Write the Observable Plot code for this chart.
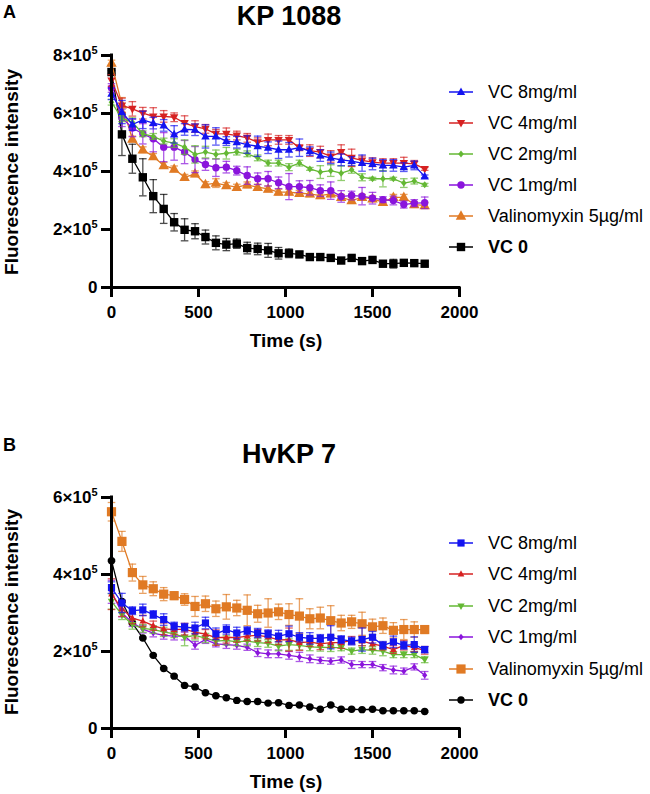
<!DOCTYPE html>
<html><head><meta charset="utf-8">
<script src="https://cdn.jsdelivr.net/npm/d3@7"></script>
<script src="https://cdn.jsdelivr.net/npm/@observablehq/plot@0.6"></script>
<style>
body{margin:0;background:#fff;}
#wrap{position:relative;width:650px;height:794px;font-family:"Liberation Sans",Arial,sans-serif;color:#000;overflow:hidden;}
.abs{position:absolute;white-space:nowrap;line-height:1;}
.c{transform:translate(-50%,-50%);}
.cx{transform:translateX(-50%);line-height:1.12;}
.rot{transform:translate(-50%,-50%) rotate(-90deg);}
.vm{transform:translateY(-50%);}
svg.plot{position:absolute;left:0;}
</style></head><body><div id="wrap"></div>
<script>
// ---------- data (fluorescence in units of 10^5) ----------
const times = [0,60,120,180,240,300,360,420,480,540,600,660,720,780,840,900,960,1020,1080,1140,1200,1260,1320,1380,1440,1500,1560,1620,1680,1740,1800];
const seriesNames = ["VC 8mg/ml","VC 4mg/ml","VC 2mg/ml","VC 1mg/ml","Valinomyxin 5µg/ml","VC 0"];
const xTicks = [0,500,1000,1500,2000];
const yTicksA = [0,2,4,6,8];
const yTicksB = [0,2,4,6];
const titleA = "KP 1088";
const titleB = "HvKP 7";

// Panel A: KP 1088
const a_vc8 = [6.68,6.05,5.62,5.78,5.67,5.59,5.28,5.45,5.44,5.21,5.21,5.05,5.01,4.93,4.87,4.82,4.75,4.75,4.82,4.70,4.55,4.47,4.40,4.36,4.29,4.26,4.21,4.21,4.15,4.21,3.83];
const a_vc4 = [7.14,6.28,6.16,6.01,5.90,5.90,5.87,5.67,5.55,5.47,5.30,5.30,5.24,5.16,5.01,5.09,5.09,5.09,4.82,4.72,4.67,4.52,4.67,4.47,4.38,4.32,4.29,4.29,4.29,4.26,4.09];
const a_vc2 = [6.39,5.82,5.70,5.30,5.21,5.05,4.98,4.84,4.59,4.67,4.59,4.63,4.67,4.61,4.47,4.29,4.29,4.15,4.29,4.09,3.98,4.03,3.94,4.06,3.80,3.75,3.75,3.75,3.60,3.67,3.54];
const a_vc1 = [6.88,5.85,5.50,5.30,5.13,4.84,4.84,4.67,4.41,4.24,4.13,4.15,4.03,3.86,3.75,3.75,3.61,3.48,3.48,3.44,3.34,3.34,3.14,3.17,3.15,3.08,3.03,3.00,2.86,2.91,2.92];
const a_val = [7.74,6.30,5.12,4.75,4.52,4.21,4.09,3.80,3.92,3.55,3.60,3.52,3.46,3.54,3.46,3.40,3.29,3.29,3.25,3.23,3.17,3.23,3.11,3.00,3.11,3.06,2.94,3.11,3.11,2.86,2.83];
const a_vc0 = [7.43,5.28,4.44,3.80,3.15,2.71,2.25,1.99,1.94,1.74,1.54,1.48,1.51,1.36,1.33,1.28,1.18,1.18,1.14,1.05,1.05,1.02,0.93,1.02,0.91,0.95,0.82,0.82,0.85,0.84,0.82];
const ea_vc8 = [0.2,0.4,0.2,0.3,0.2,0.2,0.3,0.2,0.2,0.4,0.3,0.15,0.2,0.3,0.35,0.2,0.3,0.25,0.3,0.15,0.2,0.2,0.2,0.15,0.28,0.2,0.2,0.2,0.15,0.15,0.05];
const ea_vc4 = [0.2,0.25,0.25,0.2,0.3,0.2,0.15,0.25,0.2,0.15,0.15,0.2,0.15,0.15,0.15,0.2,0.15,0.15,0.1,0.2,0.2,0.2,0.25,0.3,0.15,0.15,0.15,0.15,0.2,0.12,0.05];
const ea_vc2 = [0.1,0.1,0.15,0.1,0.1,0.1,0.15,0.25,0.3,0.2,0.15,0.2,0.1,0.1,0.1,0.1,0.1,0.12,0.1,0.05,0.22,0.2,0.25,0.12,0.12,0.05,0.28,0.05,0.15,0.1,0.05];
const ea_vc1 = [0.15,0.3,0.3,0.35,0.45,0.5,0.45,0.4,0.45,0.2,0.3,0.2,0.15,0.3,0.2,0.25,0.2,0.45,0.2,0.25,0.2,0.3,0.2,0.15,0.3,0.2,0.1,0.15,0.12,0.12,0.2];
const ea_val = [0.1,0.25,0.1,0.1,0.1,0.1,0.1,0.1,0.1,0.1,0.15,0.1,0.1,0.1,0.1,0.1,0.1,0.1,0.1,0.1,0.1,0.1,0.1,0.1,0.1,0.1,0.1,0.1,0.1,0.1,0.1];
const ea_vc0 = [0.05,0.73,0.5,0.64,0.57,0.5,0.3,0.38,0.26,0.24,0.24,0.21,0.16,0.2,0.2,0.24,0.2,0.15,0.1,0.1,0.1,0.08,0.08,0.08,0.08,0.08,0.1,0.15,0.1,0.08,0.08];

// Panel B: HvKP 7
const b_vc8 = [3.66,3.26,3.06,3.08,2.96,2.83,2.66,2.63,2.61,2.74,2.46,2.57,2.48,2.54,2.48,2.46,2.40,2.46,2.37,2.34,2.34,2.37,2.31,2.27,2.31,2.37,2.16,2.25,2.16,2.18,2.05];
const b_vc4 = [3.49,3.11,2.87,2.79,2.67,2.59,2.57,2.58,2.50,2.45,2.36,2.37,2.36,2.40,2.42,2.38,2.30,2.31,2.23,2.25,2.20,2.23,2.23,2.29,2.27,2.20,2.14,2.05,2.16,2.10,2.03];
const b_vc2 = [3.30,2.95,2.70,2.60,2.57,2.51,2.46,2.37,2.42,2.35,2.27,2.29,2.25,2.27,2.23,2.21,2.14,2.18,2.16,2.12,2.11,2.10,2.10,2.01,2.05,2.03,2.01,1.92,1.92,1.92,1.79];
const b_vc1 = [3.55,3.00,2.75,2.58,2.48,2.42,2.40,2.40,2.16,2.31,2.20,2.18,2.16,2.11,1.97,1.94,1.94,1.90,1.86,1.81,1.77,1.75,1.78,1.66,1.66,1.66,1.58,1.52,1.49,1.60,1.38];
const b_val = [5.63,4.86,4.05,3.73,3.63,3.49,3.45,3.35,3.17,3.24,3.11,3.16,3.13,3.07,2.98,3.00,3.03,2.96,2.92,2.85,2.87,2.80,2.74,2.77,2.72,2.64,2.67,2.55,2.57,2.57,2.57];
const b_vc0 = [4.36,3.30,2.74,2.35,1.90,1.56,1.36,1.12,1.08,0.93,0.85,0.80,0.73,0.70,0.70,0.66,0.67,0.60,0.61,0.56,0.50,0.61,0.50,0.50,0.49,0.50,0.46,0.46,0.46,0.46,0.44];
const eb_vc8 = [0.15,0.25,0.1,0.15,0.1,0.15,0.1,0.1,0.15,0.15,0.15,0.12,0.15,0.1,0.12,0.1,0.15,0.2,0.12,0.15,0.1,0.3,0.1,0.1,0.3,0.15,0.1,0.15,0.1,0.2,0.08];
const eb_vc4 = [0.4,0.2,0.15,0.15,0.12,0.15,0.12,0.15,0.15,0.12,0.2,0.15,0.12,0.12,0.15,0.15,0.12,0.3,0.2,0.12,0.15,0.12,0.15,0.1,0.12,0.15,0.1,0.1,0.12,0.1,0.1];
const eb_vc2 = [0.2,0.12,0.12,0.1,0.1,0.12,0.1,0.22,0.12,0.12,0.1,0.12,0.1,0.12,0.1,0.1,0.12,0.15,0.12,0.1,0.1,0.1,0.08,0.08,0.1,0.1,0.12,0.08,0.08,0.08,0.08];
const eb_vc1 = [0.3,0.1,0.1,0.1,0.1,0.1,0.1,0.1,0.1,0.1,0.08,0.1,0.1,0.08,0.1,0.1,0.1,0.1,0.12,0.1,0.08,0.08,0.08,0.1,0.08,0.08,0.08,0.1,0.08,0.08,0.1];
const eb_val = [0.24,0.26,0.22,0.22,0.18,0.17,0.1,0.15,0.26,0.2,0.2,0.32,0.2,0.4,0.22,0.37,0.2,0.28,0.45,0.26,0.28,0.39,0.2,0.17,0.3,0.2,0.2,0.2,0.26,0.2,0.1];
const eb_vc0 = [0.02,0.02,0.02,0.02,0.02,0.02,0.02,0.02,0.02,0.02,0.02,0.02,0.02,0.02,0.02,0.02,0.02,0.02,0.02,0.02,0.02,0.02,0.02,0.02,0.02,0.02,0.02,0.02,0.02,0.02,0.02];

// ---------- styles ----------
const COL = {blue:"#1414f0", red:"#d62222", green:"#64b834", purple:"#8a14dc", orange:"#e07a24", black:"#000000"};
const sym = f => ({draw(ctx, size){ f(ctx, Math.sqrt(size/Math.PI)); }});
const SQUARE = sym((c,h)=>{c.moveTo(-h,-h);c.lineTo(h,-h);c.lineTo(h,h);c.lineTo(-h,h);c.closePath();});
const TRI_UP = sym((c,h)=>{c.moveTo(0,-h*1.15);c.lineTo(h*1.05,h*0.75);c.lineTo(-h*1.05,h*0.75);c.closePath();});
const TRI_DOWN = sym((c,h)=>{c.moveTo(0,h*1.15);c.lineTo(h*1.05,-h*0.75);c.lineTo(-h*1.05,-h*0.75);c.closePath();});
const DIAMOND = sym((c,h)=>{c.moveTo(0,-h*1.25);c.lineTo(h,0);c.lineTo(0,h*1.25);c.lineTo(-h,0);c.closePath();});
const CIRCLE = sym((c,h)=>{c.moveTo(h,0);c.arc(0,0,h,0,2*Math.PI);c.closePath();});
const CAP = sym((c,h)=>{c.moveTo(-h,0);c.lineTo(h,0);});

const panelA = {
  top:0, height:330, marginTop:55, marginBottom:43, yMax:8, yTicks:yTicksA,
  series:[
    {name:seriesNames[0], v:a_vc8, e:ea_vc8, color:COL.blue,   symbol:TRI_UP,   r:4},
    {name:seriesNames[1], v:a_vc4, e:ea_vc4, color:COL.red,    symbol:TRI_DOWN, r:4},
    {name:seriesNames[2], v:a_vc2, e:ea_vc2, color:COL.green,  symbol:DIAMOND,  r:2.8},
    {name:seriesNames[3], v:a_vc1, e:ea_vc1, color:COL.purple, symbol:CIRCLE,   r:3.7},
    {name:seriesNames[4], v:a_val, e:ea_val, color:COL.orange, symbol:TRI_UP,   r:5},
    {name:seriesNames[5], v:a_vc0, e:ea_vc0, color:COL.black,  symbol:SQUARE,   r:4.2, bold:true}
  ],
  legendY0:92, legendStep:31, title:titleA, letter:"A", letterY:12, titleTop:1, axisTitleY:172, xTitleY:340
};
const panelB = {
  top:400, height:370, marginTop:97, marginBottom:42, yMax:6, yTicks:yTicksB,
  series:[
    {name:seriesNames[0], v:b_vc8, e:eb_vc8, color:COL.blue,   symbol:SQUARE,   r:3.6},
    {name:seriesNames[1], v:b_vc4, e:eb_vc4, color:COL.red,    symbol:TRI_UP,   r:3.2},
    {name:seriesNames[2], v:b_vc2, e:eb_vc2, color:COL.green,  symbol:TRI_DOWN, r:3.5},
    {name:seriesNames[3], v:b_vc1, e:eb_vc1, color:COL.purple, symbol:DIAMOND,  r:2.6},
    {name:seriesNames[4], v:b_val, e:eb_val, color:COL.orange, symbol:SQUARE,   r:4.6},
    {name:seriesNames[5], v:b_vc0, e:eb_vc0, color:COL.black,  symbol:CIRCLE,   r:3.7, bold:true}
  ],
  legendY0:543, legendStep:31.4, title:titleB, letter:"B", letterY:445, titleTop:439, axisTitleY:612, xTitleY:781
};

const wrap = document.getElementById("wrap");
function addText(txt, left, top, cls, style){
  const d = document.createElement("div");
  d.className = "abs " + cls;
  d.textContent = txt;
  d.style.left = left + "px"; d.style.top = top + "px";
  Object.assign(d.style, style || {});
  wrap.appendChild(d);
}

function drawPanel(P){
  const marks = [];
  // draw order: VC 0 first, VC 8 last (on top)
  const order = P.series.slice().reverse();
  for (const s of order){
    const rows = times.map((t,i)=>({t, v:s.v[i], e:s.e[i]}));
    const ebar = {stroke:s.color, strokeWidth:1.3, strokeOpacity:0.7};
    marks.push(Plot.ruleX(rows, {x:"t", y1:d=>d.v-d.e, y2:d=>d.v+d.e, ...ebar}));
    marks.push(Plot.dot(rows, {x:"t", y:d=>d.v+d.e, symbol:CAP, r:3.8, fill:"none", ...ebar}));
    marks.push(Plot.dot(rows, {x:"t", y:d=>d.v-d.e, symbol:CAP, r:3.8, fill:"none", ...ebar}));
    marks.push(Plot.line(rows, {x:"t", y:"v", stroke:s.color, strokeWidth:1.3}));
    marks.push(Plot.dot(rows, {x:"t", y:"v", symbol:s.symbol, r:s.r, fill:s.color, stroke:"none"}));
  }
  marks.push(Plot.ruleY([0], {strokeWidth:3, stroke:"#000", strokeLinecap:"square"}));
  marks.push(Plot.ruleX([0], {strokeWidth:3, stroke:"#000", strokeLinecap:"square"}));
  marks.push(Plot.axisX({ticks:xTicks, tickSize:10, tickPadding:8, strokeWidth:3, stroke:"#000",
    fontSize:17, fontWeight:"bold", label:null, tickFormat:d=>String(d)}));
  marks.push(Plot.axisY({ticks:P.yTicks, tickSize:10, tickPadding:4, strokeWidth:3, stroke:"#000",
    fontSize:17, fontWeight:"bold", label:null, tickFormat:d=> d===0 ? "0" : d + "×10^5"}));

  const svg = Plot.plot({
    width:650, height:P.height,
    marginLeft:111, marginRight:191, marginTop:P.marginTop, marginBottom:P.marginBottom,
    x:{domain:[0,2000]}, y:{domain:[0,P.yMax]},
    style:{fontFamily:'"Liberation Sans", Arial, sans-serif', fontWeight:"bold", background:"transparent", color:"#000", overflow:"visible"},
    marks
  });
  // real superscripts for the y tick labels
  svg.querySelectorAll("text").forEach(t=>{
    const s = t.textContent;
    if (s.endsWith("^5")) {
      t.textContent = s.slice(0, -2);
      const ts = document.createElementNS("http://www.w3.org/2000/svg", "tspan");
      ts.setAttribute("dy", "-7");
      ts.setAttribute("font-size", "11");
      ts.textContent = "5";
      t.appendChild(ts);
    }
  });
  svg.classList.add("plot");
  svg.style.top = P.top + "px";
  wrap.appendChild(svg);

  // texts
  addText(P.letter, 3, P.letterY, "vm", {fontSize:"18px", fontWeight:"bold"});
  addText(P.title, 289, P.titleTop, "cx", {fontSize:"27px", fontWeight:"bold"});
  addText("Fluorescence intensity", 11, P.axisTitleY, "rot", {fontSize:"19px", fontWeight:"bold"});
  addText("Time (s)", 286, P.xTitleY, "c", {fontSize:"19px", fontWeight:"bold"});

  // legend
  P.series.forEach((s,i)=>{
    const y = P.legendY0 + i*P.legendStep;
    const ns = "http://www.w3.org/2000/svg";
    const g = document.createElementNS(ns, "svg");
    g.setAttribute("width", 30); g.setAttribute("height", 16);
    g.style.position = "absolute"; g.style.left = "446px"; g.style.top = (y-8) + "px";
    const ln = document.createElementNS(ns, "line");
    ln.setAttribute("x1", 3); ln.setAttribute("x2", 27); ln.setAttribute("y1", 8); ln.setAttribute("y2", 8);
    ln.setAttribute("stroke", s.color); ln.setAttribute("stroke-width", 1.5);
    g.appendChild(ln);
    const p = d3.path(); s.symbol.draw(p, Math.PI*s.r*s.r);
    const pt = document.createElementNS(ns, "path");
    pt.setAttribute("d", p.toString()); pt.setAttribute("fill", s.color);
    pt.setAttribute("transform", "translate(15,8)");
    g.appendChild(pt);
    wrap.appendChild(g);
    addText(s.name, 488, y, "vm", {fontSize:"18px", fontWeight: s.bold ? "bold" : "normal"});
  });
}
drawPanel(panelA);
drawPanel(panelB);
</script></body></html>
